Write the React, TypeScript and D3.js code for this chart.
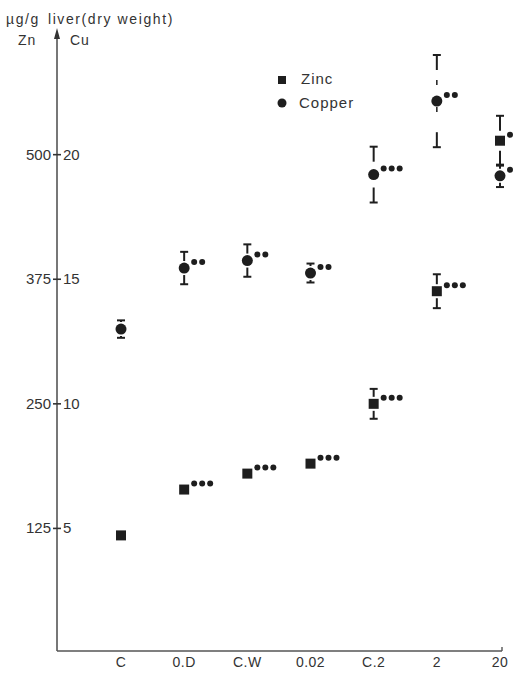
import React from 'react';
import * as d3 from 'd3';

// treatment groups along the x axis
const categories = ['C', '0.D', 'C.W', '0.02', 'C.2', '2', '20'];

// zinc, µg/g liver (dry weight)
const zincMean = [118, 164, 180, 190, 250, 363, 514];
const zincSD = [3, 0, 0, 0, 15, 17, 25];
const zincStars = [0, 3, 3, 3, 3, 3, 3];

// copper, µg/g liver (dry weight)
const copperMean = [13.0, 15.45, 15.75, 15.25, 19.2, 22.15, 19.15];
const copperSD = [0.35, 0.65, 0.65, 0.38, 1.12, 1.85, 0.45];
const copperStars = [0, 2, 2, 2, 3, 2, 3];

// paired axis labels: Zn on the left, Cu on the right
const zincTicks = [125, 250, 375, 500];
const copperTicks = [5, 10, 15, 20];
const CU_TO_ZN = 25;

export default function App() {
  const W = 514,
    H = 674;
  const axisX = 57,
    baseY = 651;

  const x = d3.scalePoint<string>().domain(categories).range([121, 500]);
  const y = d3.scaleLinear().domain([0, 600]).range([653, 55]);

  const ink = '#1e1e1e';
  const textColor = '#333';
  const font = '"Liberation Sans", Arial, sans-serif';

  // T cap on top, inverted T at bottom; stems stop short of the marker
  const errorBar = (cx: number, cy: number, top: number, bottom: number, key: string, broken = false) => {
    const stemMax = 15;
    const edge = 7;
    const upEnd = Math.max(top, Math.max(cy - edge, top) > top + stemMax ? top + stemMax : cy - edge);
    const downEnd = Math.min(bottom, Math.min(cy + edge, bottom) < bottom - stemMax ? bottom - stemMax : cy + edge);
    return (
      <g key={key} stroke={ink} strokeWidth={2}>
        <line x1={cx} x2={cx} y1={top} y2={upEnd} />
        <line x1={cx} x2={cx} y1={downEnd} y2={bottom} />
        {broken && <line x1={cx} x2={cx} y1={upEnd + 10} y2={downEnd - 10} strokeDasharray="5 22" strokeWidth={1.5} />}
        <line x1={cx - 4} x2={cx + 4} y1={top} y2={top} />
        <line x1={cx - 4} x2={cx + 4} y1={bottom} y2={bottom} />
      </g>
    );
  };

  const stars = (cx: number, cy: number, n: number, key: string) =>
    d3.range(n).map((i) => (
      <circle key={key + i} cx={cx + 10 + i * 8} cy={cy - 6} r={3} fill={ink} />
    ));

  return (
    <svg
      width={W}
      height={H}
      style={{ position: 'absolute', left: 0, top: 0, background: '#fff' }}
      fontFamily={font}
    >
      {/* TITLE + AXIS NAMES */}
      <text x={6} y={24} fontSize={14} letterSpacing={1.6} fill={textColor}>
        µg/g<tspan dx={8}>liver(dry weight)</tspan>
      </text>
      <text x={18} y={45} fontSize={14} letterSpacing={1} fill={textColor}>Zn</text>
      <text x={70} y={45} fontSize={14} letterSpacing={1} fill={textColor}>Cu</text>

      {/* AXES */}
      <line x1={axisX} x2={axisX} y1={baseY} y2={34} stroke="#555" strokeWidth={1.6} />
      <path d={`M${axisX},28 L${axisX - 3},39 L${axisX + 3},39 Z`} fill="#333" />
      <line x1={axisX} x2={502} y1={baseY} y2={baseY} stroke="#555" strokeWidth={1.4} />
      <line x1={502} x2={502} y1={baseY} y2={baseY - 4} stroke="#555" strokeWidth={1.4} />

      {zincTicks.map((t, i) => (
        <g key={'tick' + t}>
          <line x1={axisX - 4} x2={axisX + 4} y1={y(t)} y2={y(t)} stroke="#333" strokeWidth={1.6} />
          <text x={axisX - 6} y={y(t) + 5} fontSize={15} textAnchor="end" fill={textColor}>
            {t}
          </text>
          <text x={axisX + 6} y={y(t) + 5} fontSize={15} fill={textColor}>
            {copperTicks[i]}
          </text>
        </g>
      ))}

      {categories.map((c) => (
        <text key={'xl' + c} x={x(c)} y={667} fontSize={14} letterSpacing={0.5} textAnchor="middle" fill={textColor}>
          {c}
        </text>
      ))}

      {/* LEGEND */}
      <rect x={278} y={76} width={8} height={8} fill={ink} />
      <text x={301} y={84} fontSize={15} letterSpacing={1} fill={textColor}>Zinc</text>
      <circle cx={282} cy={103} r={4.5} fill={ink} />
      <text x={299} y={108} fontSize={15} letterSpacing={1} fill={textColor}>Copper</text>

      {/* COPPER */}
      {categories.map((c, i) => {
        const cx = x(c)!;
        const v = copperMean[i] * CU_TO_ZN;
        const sd = copperSD[i] * CU_TO_ZN;
        const cy = y(v);
        return (
          <g key={'cu' + c}>
            {errorBar(cx, cy, y(v + sd), y(v - sd), 'cue' + c, c === '2')}
            <circle cx={cx} cy={cy} r={5.5} fill={ink} />
            {stars(cx, cy, copperStars[i], 'cus' + c)}
          </g>
        );
      })}

      {/* ZINC */}
      {categories.map((c, i) => {
        const cx = x(c)!;
        const v = zincMean[i];
        const sd = zincSD[i];
        const cy = y(v);
        return (
          <g key={'zn' + c}>
            {sd > 0 && errorBar(cx, cy, y(v + sd), y(v - sd), 'zne' + c)}
            <rect x={cx - 5} y={cy - 5} width={10} height={10} fill={ink} />
            {stars(cx, cy, zincStars[i], 'zns' + c)}
          </g>
        );
      })}
    </svg>
  );
}
